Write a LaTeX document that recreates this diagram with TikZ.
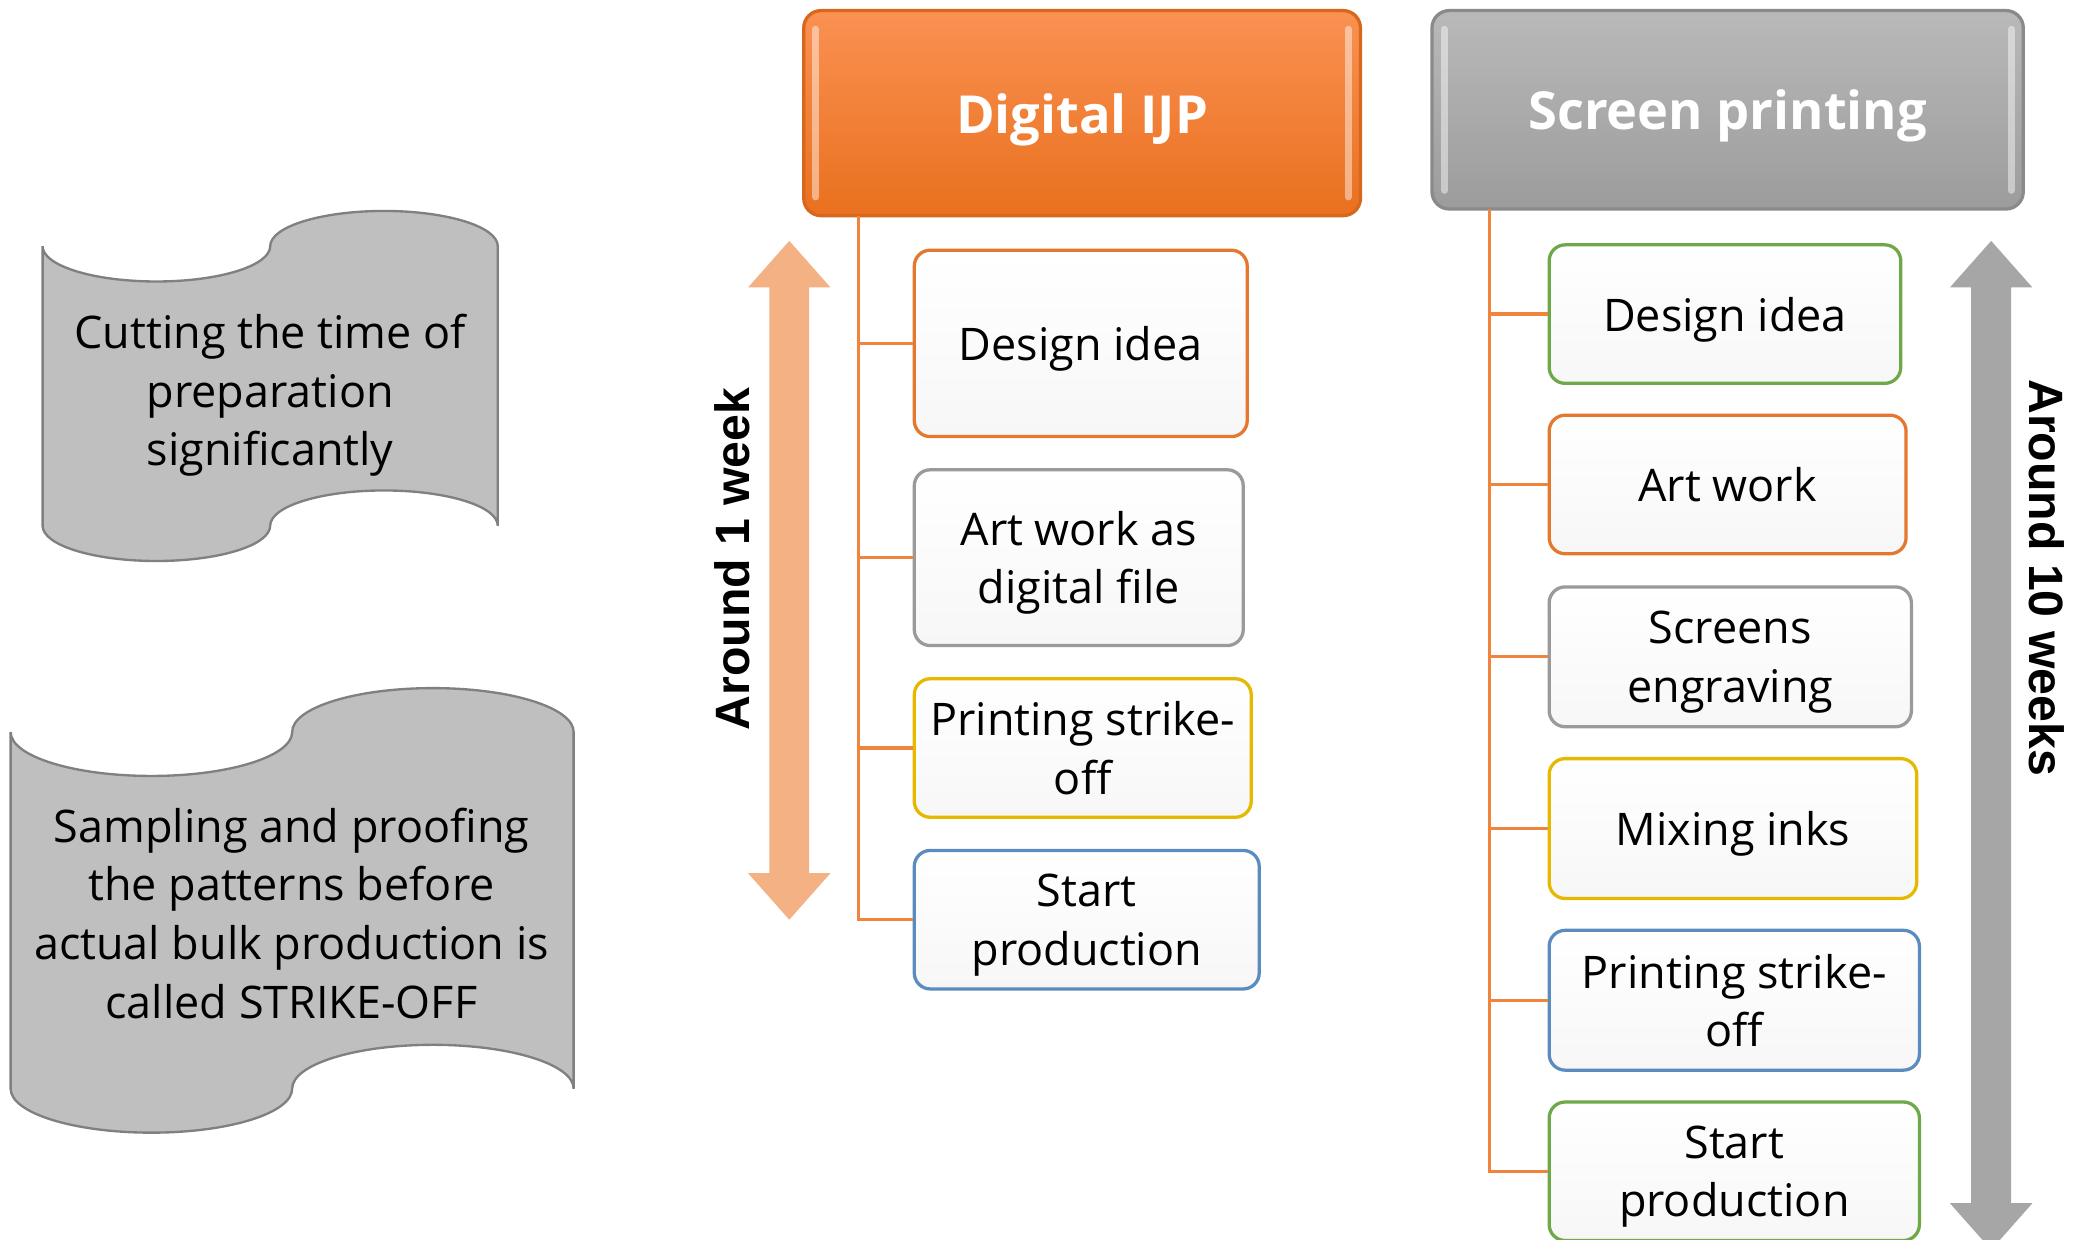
\documentclass[tikz,border=0pt]{standalone}
\usepackage{fontspec}
\setmainfont{Open Sans}
\newfontfamily\arialfont{Liberation Sans}
\definecolor{hdtop}{HTML}{FA9152}
\definecolor{hdbot}{HTML}{E9701E}
\definecolor{hdline}{HTML}{D8661C}
\definecolor{gytop}{HTML}{B9B9B9}
\definecolor{gybot}{HTML}{9C9C9C}
\definecolor{gyline}{HTML}{8A8A8A}
\definecolor{treec}{HTML}{F0843C}
\definecolor{arrO}{HTML}{F4B183}
\definecolor{arrG}{HTML}{A6A6A6}
\definecolor{bOr}{HTML}{E5782F}
\definecolor{bGy}{HTML}{9A9A9A}
\definecolor{bGd}{HTML}{E6B800}
\definecolor{bBl}{HTML}{5B8CC0}
\definecolor{bGn}{HTML}{6FA848}
\definecolor{tapef}{HTML}{BFBFBF}
\definecolor{tapel}{HTML}{808080}
\definecolor{boxbot}{HTML}{F7F7F7}
\newcommand\bodyfont{\fontsize{9.6}{12.5}\selectfont}
\newcommand\punchtape[6]{% name L R yT yB a
  \pgfmathsetmacro\qq{(#3-#2)/4}
  \pgfmathsetmacro\kq{0.5523*\qq}
  \pgfmathsetmacro\ka{0.5523*#6}
  \pgfmathsetmacro\mm{(#2+#3)/2}
  \draw[tapeshape] (#2,#4)
    .. controls (#2,{#4+\ka}) and ({#2+\qq-\kq},{#4+#6}) .. ({#2+\qq},{#4+#6})
    .. controls ({#2+\qq+\kq},{#4+#6}) and (\mm,{#4+\ka}) .. (\mm,#4)
    .. controls (\mm,{#4-\ka}) and ({\mm+\qq-\kq},{#4-#6}) .. ({\mm+\qq},{#4-#6})
    .. controls ({\mm+\qq+\kq},{#4-#6}) and (#3,{#4-\ka}) .. (#3,#4)
    -- (#3,#5)
    .. controls (#3,{#5-\ka}) and ({\mm+\qq+\kq},{#5-#6}) .. ({\mm+\qq},{#5-#6})
    .. controls ({\mm+\qq-\kq},{#5-#6}) and (\mm,{#5-\ka}) .. (\mm,#5)
    .. controls (\mm,{#5+\ka}) and ({#2+\qq+\kq},{#5+#6}) .. ({#2+\qq},{#5+#6})
    .. controls ({#2+\qq-\kq},{#5+#6}) and (#2,{#5+\ka}) .. (#2,#5)
    -- cycle;
}
\tikzset{
  tapeshape/.style={fill=tapef, draw=tapel, line width=0.5pt},
  tapetext/.style={align=center, font=\bodyfont, inner sep=0pt, text depth=0pt},
  stepbox/.style={draw=#1, line width=0.7pt, rounded corners=1.2mm, top color=white, bottom color=boxbot, align=center, font=\bodyfont, inner sep=0pt, text depth=0pt},
  header/.style={rounded corners=1.3mm, line width=0.7pt, align=center, text=white, font=\bfseries\fontsize{11.2}{13}\selectfont, inner sep=0pt, text depth=0pt},
  tree/.style={draw=treec, line width=0.7pt},
  bigarrow/.style={fill=#1, draw=none},
  duration/.style={font=\arialfont\bfseries\fontsize{10.3}{12}\selectfont, inner sep=0pt},
  gloss/.style={draw=white, opacity=0.45, line width=1.5pt, line cap=round}
}
\begin{document}
\begin{tikzpicture}[x=0.01cm, y=-0.01cm]
\clip (0,0) rectangle (1568,931);
\fill[white] (0,0) rectangle (1568,931);

% wave shapes
\punchtape{t1}{32}{374}{185}{395}{26.5}
\node[tapetext] (txt1) at (203,293) {Cutting the time of\\preparation\\significantly};
\punchtape{t2}{8}{431}{550}{818}{33}
\node[tapetext] (txt2) at (219,686) {Sampling and proofing\\the patterns before\\actual bulk production is\\called STRIKE-OFF};

% headers
\node[header, top color=hdtop, bottom color=hdbot, draw=hdline, minimum width=4.18cm, minimum height=1.54cm] (hd) at (813,85) {Digital IJP};
\node[header, top color=gytop, bottom color=gybot, draw=gyline, minimum width=4.44cm, minimum height=1.49cm] (hs) at (1298,82.5) {Screen printing};
\draw[gloss] (613,22) -- (613,148);
\draw[gloss] (1013,22) -- (1013,148);
\draw[gloss] (1085,22) -- (1085,143);
\draw[gloss] (1511,22) -- (1511,143);

% double arrows
\fill[bigarrow=arrO] (593,181) -- (624,216) -- (608,216) -- (608,656) -- (624,656) -- (593,691) -- (562,656) -- (578,656) -- (578,216) -- (562,216) -- cycle;
\fill[bigarrow=arrG] (1496,181) -- (1527,216) -- (1511,216) -- (1511,904) -- (1527,904) -- (1496,939) -- (1465,904) -- (1481,904) -- (1481,216) -- (1465,216) -- cycle;
\node[duration, rotate=90] (w1) at (550,420) {Around 1 week};
\node[duration, rotate=-90] (w10) at (1538,434) {Around 10 weeks};

% left column boxes
\node[stepbox=bOr, minimum width=2.50cm, minimum height=1.40cm] (d1) at (812,258) {Design idea};
\node[stepbox=bGy, minimum width=2.47cm, minimum height=1.32cm] (d2) at (810.5,419) {Art work as\\digital file};
\node[stepbox=bGd, minimum width=2.53cm, minimum height=1.04cm] (d3) at (813.5,562) {Printing strike-\\off};
\node[stepbox=bBl, minimum width=2.59cm, minimum height=1.04cm] (d4) at (816.5,691) {Start\\production};

% right column boxes
\node[stepbox=bGn, minimum width=2.64cm, minimum height=1.04cm] (s1) at (1296,236) {Design idea};
\node[stepbox=bOr, minimum width=2.68cm, minimum height=1.04cm] (s2) at (1298,364) {Art work};
\node[stepbox=bGy, minimum width=2.72cm, minimum height=1.05cm] (s3) at (1300,493.5) {Screens\\engraving};
\node[stepbox=bGd, minimum width=2.76cm, minimum height=1.05cm] (s4) at (1302,622.5) {Mixing inks};
\node[stepbox=bBl, minimum width=2.78cm, minimum height=1.05cm] (s5) at (1303,751.5) {Printing strike-\\off};
\node[stepbox=bGn, minimum width=2.78cm, minimum height=1.04cm] (s6) at (1303,880) {Start\\production};

% tree connectors
\coordinate (dtop) at (645,162);
\coordinate (stop) at (1119,157);
\foreach \b in {d1,d2,d3,d4} \draw[tree] (dtop) |- (\b.west);
\foreach \b in {s1,s2,s3,s4,s5,s6} \draw[tree] (stop) |- (\b.west);
\end{tikzpicture}
\end{document}
